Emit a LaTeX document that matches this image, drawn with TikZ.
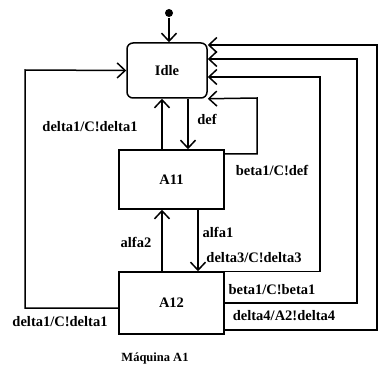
\documentclass[tikz,border=0pt]{standalone}
\usepackage{fontspec}
\setmainfont{Liberation Serif}
\usetikzlibrary{arrows.meta}
\begin{document}
\begin{tikzpicture}[x=1pt,y=-1pt,line width=1.5pt,
  every node/.style={font=\fontsize{14.5}{16}\selectfont\bfseries},
  st/.style={draw,minimum width=105pt,minimum height=60pt,inner sep=0pt},
  tr/.style={-{Straight Barb[length=8pt,width=15pt]}},
  lbl/.style={inner sep=0pt}]
\useasboundingbox (0,0) rectangle (379,371);
\node[st,rounded corners=6pt,minimum width=80pt,minimum height=55pt] (idle) at (167,70.5) {Idle};
\node[st,minimum height=59pt] (a11) at (171.5,179.5) {A11};
\node[st,minimum height=62pt] (a12) at (171.5,303) {A12};
\node[circle,fill,inner sep=0pt,minimum size=8pt] (init) at (169,13) {};
\draw[tr] (init) -- (init |- idle.north);
% Idle <-> A11
\draw[tr] (a11.north -| 162,0) -- (idle.south -| 162,0);
\draw[tr] (idle.south -| 188,0) -- (a11.north -| 188,0);
\draw[tr] (a11.east |- 0,154) -| (257,98) -- (idle.south east);
% A11 <-> A12
\draw[tr] (a12.north -| 162,0) -- (a11.south -| 162,0);
\draw[tr] (a11.south -| 198,0) -- (a12.north -| 198,0);
% A12 -> Idle
\draw[tr] (a12.north east) -| (320,77) -- (idle.east |- 0,77);
\draw[tr] (a12.east |- 0,303) -| (357,59) -- (idle.east |- 0,59);
\draw[tr] (a12.east |- 0,330) -| (377,45) -- (idle.east |- 0,45);
\draw[tr] (a12.west |- 0,308) -| (25,70) -- (idle.west);
% labels
\node[lbl] (l1) at (90,127) {delta1/C!delta1};
\node[lbl] (l2) at (207,119) {def};
\node[lbl] (l3) at (272,170) {beta1/C!def};
\node[lbl] (l4) at (136,242) {alfa2};
\node[lbl] (l5) at (218,232) {alfa1};
\node[lbl] (l6) at (254,258) {delta3/C!delta3};
\node[lbl] (l7) at (272,290) {beta1/C!beta1};
\node[lbl] (l8) at (284,316) {delta4/A2!delta4};
\node[lbl] (l9) at (60,322) {delta1/C!delta1};
\node[lbl,font=\fontsize{12.5}{14}\selectfont\bfseries] (cap) at (155,358) {Máquina A1};
\end{tikzpicture}
\end{document}
